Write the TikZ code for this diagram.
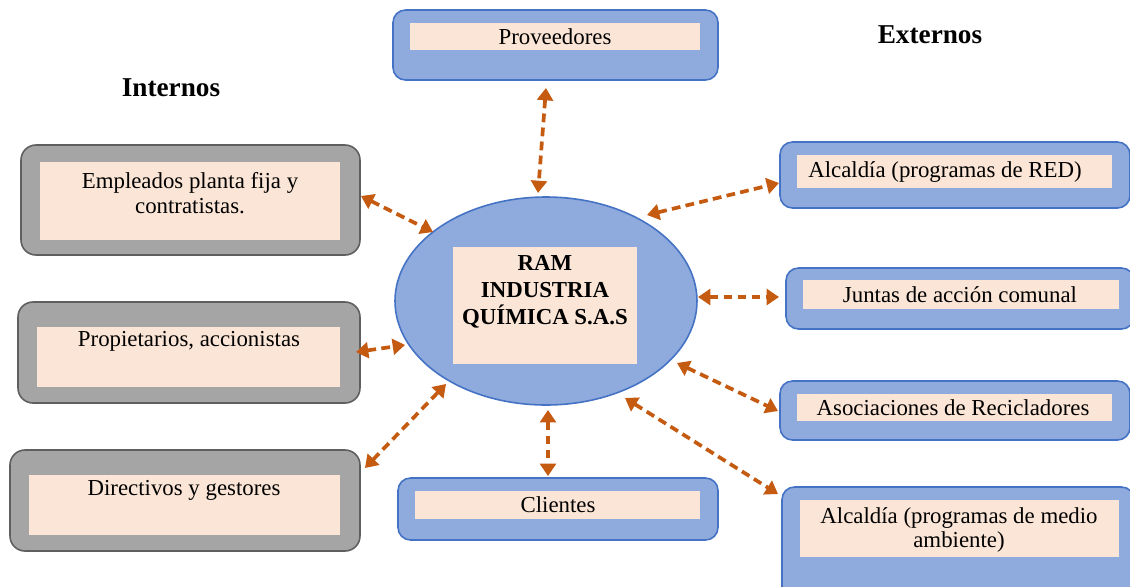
\documentclass[tikz,border=0pt]{standalone}
\usepackage{fontspec}
\setmainfont{Liberation Serif}
\usetikzlibrary{arrows.meta}
\definecolor{bluefill}{HTML}{8FAADC}
\definecolor{blueline}{HTML}{4472C4}
\definecolor{grayfill}{HTML}{A5A5A5}
\definecolor{grayline}{HTML}{5F5F5F}
\definecolor{pinkfill}{HTML}{FBE5D6}
\definecolor{orangeln}{HTML}{C55A11}
\begin{document}
\begin{tikzpicture}[x=0.02cm,y=-0.02cm,
  bluebox/.style={draw=blueline,fill=bluefill,line width=0.9pt,rounded corners=0.25cm},
  graybox/.style={draw=grayline,fill=grayfill,line width=0.9pt,rounded corners=0.3cm},
  pinkbox/.style={fill=pinkfill},
  lbl/.style={font=\fontsize{13}{14.2}\selectfont,align=center,inner sep=0pt},
  head/.style={font=\fontsize{15.5}{18}\selectfont\bfseries,inner sep=0pt},
  conn/.style={draw=orangeln,line width=2.1pt,dash pattern=on 5pt off 3pt,
    {Triangle[length=7pt,width=9pt]}-{Triangle[length=7pt,width=9pt]}}]
\clip (0,0) rectangle (1130,586);
\fill[white] (0,0) rectangle (1130,586);

% headings
\node[head] (ext) at (930,35) {Externos};
\node[head] (int) at (171,88) {Internos};

% Proveedores
\draw[bluebox] (393,10) rectangle (718,80);
\fill[pinkbox] (410,23) rectangle (700,50);
\node[lbl] (prov) at (555,37) {Proveedores};

% Empleados
\draw[graybox] (21,145) rectangle (360,255);
\fill[pinkbox] (40,162) rectangle (340,240);
\node[lbl] (empl) at (190,193) {Empleados planta fija y\\contratistas.};

% Propietarios
\draw[graybox] (18,302) rectangle (360,403);
\fill[pinkbox] (37,327) rectangle (340,387);
\node[lbl] (prop) at (189,341) {Propietarios, accionistas};

% Directivos
\draw[graybox] (10,450) rectangle (360,551);
\fill[pinkbox] (29,475) rectangle (340,535);
\node[lbl] (dir) at (184,490) {Directivos y gestores};

% Clientes
\draw[bluebox] (398,478) rectangle (718,540);
\fill[pinkbox] (415,491) rectangle (700,519);
\node[lbl] (cli) at (558,505) {Clientes};

% Center ellipse
\draw[draw=blueline,fill=bluefill,line width=0.9pt] (546,301) ellipse [x radius=151, y radius=104];
\fill[pinkbox] (453,247) rectangle (637,364);
\node[font=\fontsize{13}{15.3}\selectfont\bfseries,align=center,inner sep=0pt] (ram) at (545,292) {RAM\\INDUSTRIA\\QUÍMICA S.A.S};

% Alcaldia RED
\draw[bluebox] (780,142) rectangle (1130,208);
\fill[pinkbox] (797,155) rectangle (1112,188);
\node[lbl] (red) at (945,172) {Alcaldía (programas de RED)};

% Juntas
\draw[bluebox] (786,268) rectangle (1134,329);
\fill[pinkbox] (803,280) rectangle (1119,309);
\node[lbl] (jun) at (960,295) {Juntas de acción comunal};

% Asociaciones
\draw[bluebox] (780,381) rectangle (1130,440);
\fill[pinkbox] (797,394) rectangle (1112,421);
\node[lbl] (aso) at (953,408) {Asociaciones de Recicladores};

% Alcaldia medio ambiente
\draw[bluebox] (782,487) rectangle (1134,600);
\fill[pinkbox] (800,500) rectangle (1119,557);
\node[lbl] (med) at (959,530) {Alcaldía (programas de medio\\ambiente)};

% connector end points
\coordinate (a1) at (546,88);  \coordinate (b1) at (538,193);
\coordinate (a2) at (361,196); \coordinate (b2) at (433,232);
\coordinate (a3) at (356,352); \coordinate (b3) at (405,345);
\coordinate (a4) at (365,468); \coordinate (b4) at (446,384);
\coordinate (a5) at (548,410); \coordinate (b5) at (548,476);
\coordinate (a6) at (647,215); \coordinate (b6) at (779,183);
\coordinate (a7) at (698,297); \coordinate (b7) at (779,297);
\coordinate (a8) at (677,363); \coordinate (b8) at (778,411);
\coordinate (a9) at (625,398); \coordinate (b9) at (778,494);

\foreach \i in {1,...,9} \draw[conn] (a\i) -- (b\i);
\end{tikzpicture}
\end{document}
